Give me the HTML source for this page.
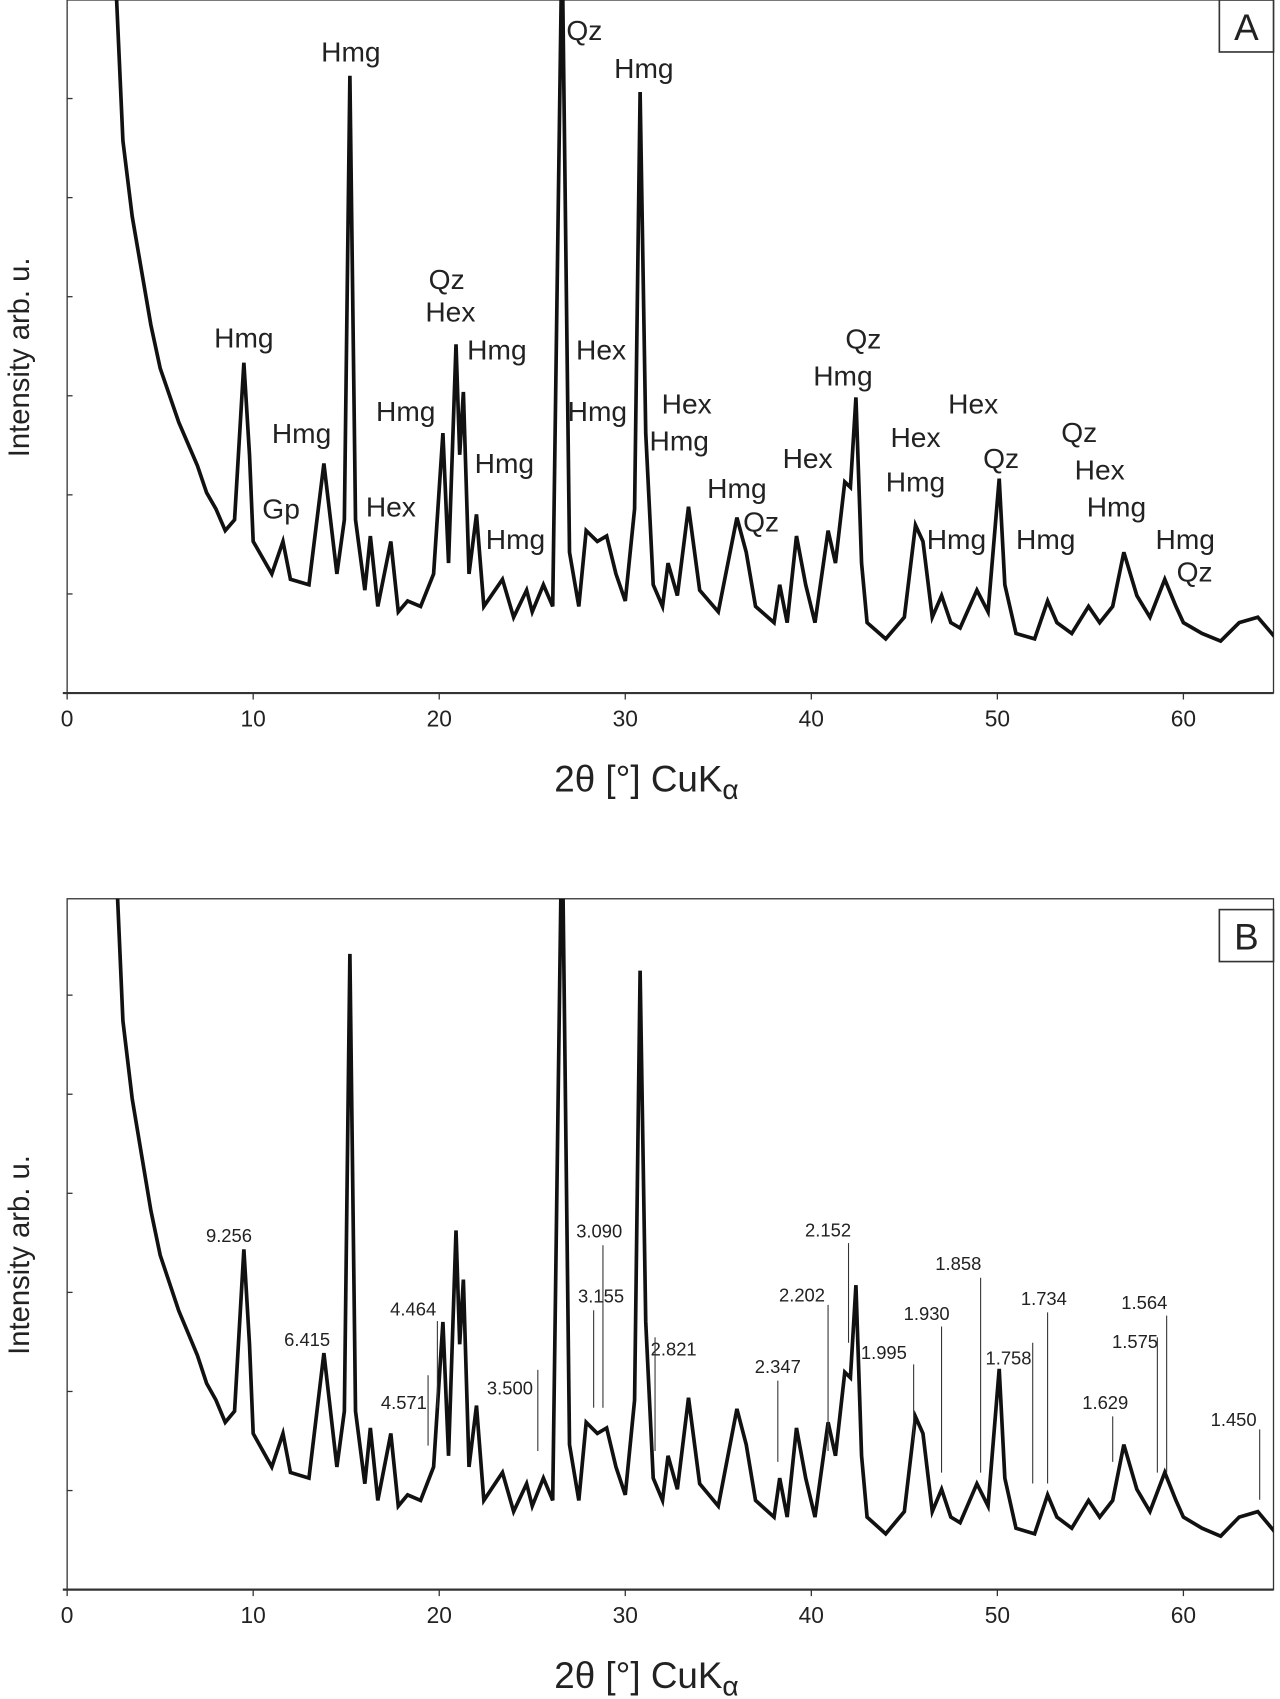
<!DOCTYPE html>
<html><head><meta charset="utf-8"><style>
html,body{margin:0;padding:0;background:#fff;}
svg{display:block;}
text{font-family:"Liberation Sans",Arial,sans-serif;fill:#222;}
</style></head><body>
<svg id="chart" width="1280" height="1699" viewBox="0 0 1182 1569" preserveAspectRatio="none" xmlns="http://www.w3.org/2000/svg">
<defs>
<clipPath id="clipA"><rect x="62" y="0" width="1114" height="640"/></clipPath>
<clipPath id="clipB"><rect x="62" y="830" width="1114" height="638"/></clipPath>
</defs>
<g id="panelA"></g>
<g id="panelB"></g>
</svg>
<script>
const twoTheta = [2.5,3,3.5,4,4.5,5,5.5,6,6.5,7,7.5,8,8.5,9,9.5,9.8,10,11,11.6,12,13,13.8,14.5,14.9,15.2,15.5,16,16.3,16.7,17.4,17.8,18.3,19,19.7,20.2,20.5,20.9,21.1,21.3,21.6,22,22.4,23.4,24,24.7,25,25.6,26.1,26.6,27,27.5,27.9,28.5,29,29.5,30,30.5,30.8,31.1,31.5,32,32.3,32.8,33.4,34,35,36,36.5,37,38,38.3,38.7,39.2,39.7,40.2,40.9,41.3,41.8,42.1,42.4,42.7,43,44,45,45.6,46,46.5,47,47.5,48,48.9,49.5,50.1,50.4,51,52,52.7,53.2,54,54.9,55.5,56.2,56.8,57.5,58.2,59,59.6,60,61,62,63,64,65];
const intensity = [700,510,440,390,340,300,275,250,230,210,185,170,150,160,305,220,140,110,140,105,100,212,110,160,570,160,95,145,80,140,75,85,80,110,240,120,322,220,278,110,165,80,105,70,95,75,100,80,700,130,80,150,140,145,110,85,170,555,240,100,80,120,90,172,95,75,162,130,80,65,100,65,145,100,65,150,120,195,190,273,120,65,50,70,155,140,70,90,65,60,95,75,198,100,55,50,85,65,55,80,65,80,130,90,70,105,80,65,55,48,65,70,50];
const xTicks = [0,10,20,30,40,50,60];
const labelsA = [["Hmg",9.5,312],["Gp",11.5,470],["Hmg",12.6,400],["Hmg",15.25,48],["Hex",17.4,468],["Qz",20.4,258],["Hex",20.6,288],["Hmg",18.2,380],["Hmg",23.1,323],["Hmg",23.5,428],["Hmg",24.1,498],["Qz",27.8,28],["Hmg",31.0,63],["Hex",28.7,323],["Hmg",28.5,380],["Hex",33.3,373],["Hmg",32.9,407],["Hmg",36.0,451],["Qz",37.3,482],["Hex",39.8,423],["Qz",42.8,313],["Hmg",41.7,347],["Hex",45.6,404],["Hmg",45.6,445],["Hex",48.7,373],["Qz",50.2,423],["Hmg",47.8,498],["Hmg",52.6,498],["Qz",54.4,399],["Hex",55.5,434],["Hmg",56.4,468],["Hmg",60.1,498],["Qz",60.6,528]];
const labelsB = [["9.256",8.7,1141,null,0,0],["6.415",12.9,1237,null,0,0],["4.464",18.6,1209,19.9,1220,1300],["4.571",18.1,1295,19.4,1270,1335],["3.500",23.8,1282,25.3,1265,1340],["3.090",28.6,1137,28.8,1150,1300],["3.155",28.7,1197,28.3,1210,1300],["2.821",32.6,1246,31.6,1235,1340],["2.347",38.2,1262,38.2,1275,1350],["2.202",39.5,1196,40.9,1205,1340],["2.152",40.9,1136,42.0,1148,1240],["1.995",43.9,1249,45.5,1260,1330],["1.930",46.2,1213,47.0,1225,1360],["1.858",47.9,1167,49.1,1180,1360],["1.758",50.6,1254,51.9,1240,1370],["1.734",52.5,1199,52.7,1212,1370],["1.629",55.8,1295,56.2,1308,1350],["1.575",57.4,1239,58.6,1235,1360],["1.564",57.9,1203,59.1,1215,1360],["1.450",62.7,1311,64.1,1320,1385]];

const NS="http://www.w3.org/2000/svg";
function xS(d){return 62+d*17.18;}
function yA(v){return 640-v;}
function yB(v){return 1468-v*1.03;}
function mk(tag,attrs,parent,txt){const e=document.createElementNS(NS,tag);for(const k in attrs)e.setAttribute(k,attrs[k]);if(txt!=null)e.textContent=txt;parent.appendChild(e);return e;}

function drawPanel(g,top,bottom,yF,clip,letter,letterY){
  const frame=mk('rect',{x:62,y:top,width:1114,height:bottom-top,fill:'none',stroke:'#333','stroke-width':1.2},g);
  
  
  const xa=mk('line',{x1:58,y1:bottom,x2:1176,y2:bottom,stroke:'#333','stroke-width':2},g);
  
  
  for(let i=1;i<=6;i++){const yy=bottom-i*91.5;
    const t=mk('line',{x1:62,y1:yy,x2:67,y2:yy,stroke:'#333','stroke-width':1.2},g);
    
    }
  xTicks.forEach(d=>{
    const t=mk('line',{x1:xS(d),y1:bottom,x2:xS(d),y2:bottom+6,stroke:'#333','stroke-width':1.2},g);
    
    
    const l=mk('text',{x:xS(d),y:bottom+31,'font-size':21,'text-anchor':'middle'},g,String(d));
    
    
  });
  const pts=twoTheta.map((d,i)=>xS(d).toFixed(1)+','+yF(intensity[i]).toFixed(1)).join(' ');
  const line=mk('polyline',{points:pts,fill:'none',stroke:'#111','stroke-width':3.4,'stroke-linejoin':'miter','clip-path':'url(#'+clip+')'},g);
  
  
  const yt=mk('text',{x:0,y:0,'font-size':27,'text-anchor':'middle',transform:'translate(27,'+((top+bottom)/2+10)+') rotate(-90)'},g,'Intensity  arb. u.');
  
  
  const xt=mk('text',{x:597,y:bottom+91,'font-size':34,'text-anchor':'middle'},g);
  
  
  xt.innerHTML='2θ [°] CuK<tspan font-size="26" dy="7">α</tspan>';
  const lb=mk('rect',{x:1126,y:letterY,width:50,height:48,fill:'#fff',stroke:'#333','stroke-width':1.5},g);
  
  
  const lt=mk('text',{x:1151,y:letterY+37,'font-size':34,'text-anchor':'middle'},g,letter);
  
  
}
const gA=document.getElementById('panelA'),gB=document.getElementById('panelB');
drawPanel(gA,0,640,yA,'clipA','A',0);
drawPanel(gB,830,1468,yB,'clipB','B',840);
labelsA.forEach(a=>{
  const t=mk('text',{x:xS(a[1]),y:a[2]+9,'font-size':26,'text-anchor':'middle'},gA,a[0]);
  
  
});
labelsB.forEach(b=>{
  const t=mk('text',{x:xS(b[1]),y:b[2]+6,'font-size':17,'text-anchor':'middle'},gB,b[0]);
  
  
  if(b[3]!==null){
    const l=mk('line',{x1:xS(b[3]),y1:b[4],x2:xS(b[3]),y2:b[5],stroke:'#333','stroke-width':1},gB);
    
    
  }
});
</script>
</body></html>
